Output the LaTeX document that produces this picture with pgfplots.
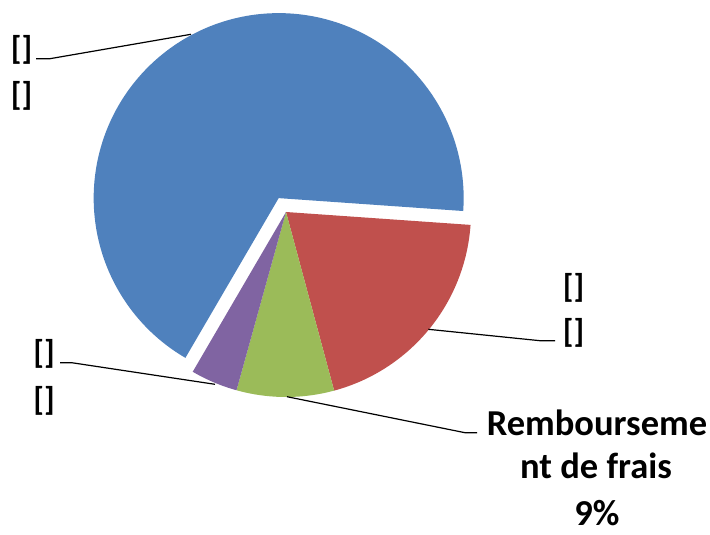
\documentclass[border=0pt]{standalone}
\usepackage{pgfplots}
\pgfplotsset{compat=1.18}
\usepackage{fontspec}
\setmainfont{Carlito}
\definecolor{cblue}{HTML}{4F81BD}
\definecolor{cred}{HTML}{C0504D}
\definecolor{cgreen}{HTML}{9BBB59}
\definecolor{cpurple}{HTML}{8064A2}
% shares in percent (clockwise from -4 degrees)
\def\pRed{19.7}
\def\pGreen{8.5}
\def\pPurple{4.1}
\def\pBlue{67.7}
\def\cx{286}\def\cy{322}\def\R{185}\def\ex{15.7}
\pgfmathsetmacro\aStart{-4}
\pgfmathsetmacro\aRG{\aStart-3.6*\pRed}
\pgfmathsetmacro\aGP{\aRG-3.6*\pGreen}
\pgfmathsetmacro\aPB{\aGP-3.6*\pPurple}
\pgfmathsetmacro\aEnd{\aPB-3.6*\pBlue}
\pgfmathsetmacro\aMid{(\aEnd+\aPB)/2}
\pgfmathsetmacro\bx{\cx+\ex*cos(\aMid)}
\pgfmathsetmacro\by{\cy+\ex*sin(\aMid)}
\newcommand\lblfont{\fontsize{33bp}{45bp}\selectfont\bfseries}
\newcommand\txtfont{\fontsize{36.5bp}{45bp}\selectfont\bfseries}
\tikzset{lbl/.style={font=\lblfont, inner sep=0pt},
         txt/.style={font=\txtfont, inner sep=0pt, anchor=base}}
\begin{document}
\begin{tikzpicture}
\begin{axis}[
  width=710bp, height=534bp, scale only axis,
  xmin=0, xmax=710, ymin=0, ymax=534,
  hide axis, clip=false,
]
\addplot[draw=none, fill=cred, domain=\aRG:\aStart, samples=80, variable=\t]
  ({\cx+\R*cos(\t)},{\cy+\R*sin(\t)}) -- (axis cs:\cx,\cy) -- cycle;
\addplot[draw=none, fill=cgreen, domain=\aGP:\aRG, samples=40, variable=\t]
  ({\cx+\R*cos(\t)},{\cy+\R*sin(\t)}) -- (axis cs:\cx,\cy) -- cycle;
\addplot[draw=none, fill=cpurple, domain=\aPB:\aGP, samples=30, variable=\t]
  ({\cx+\R*cos(\t)},{\cy+\R*sin(\t)}) -- (axis cs:\cx,\cy) -- cycle;
\addplot[draw=none, fill=cblue, domain=\aEnd:\aPB, samples=200, variable=\t]
  ({\bx+\R*cos(\t)},{\by+\R*sin(\t)}) -- (axis cs:\bx,\by) -- cycle;
% leader lines
\addplot[black, line width=1.2bp, sharp plot] coordinates {(191,499.7) (50,475.3) (36,475.3)};
\addplot[black, line width=1.2bp, sharp plot] coordinates {(428.3,204.7) (540,193.3) (555,193.3)};
\addplot[black, line width=1.2bp, sharp plot] coordinates {(287,137.3) (465,101.3) (477,101.3)};
\addplot[black, line width=1.2bp, sharp plot] coordinates {(215,149.7) (71.7,171.3) (60,171.3)};
% labels
\node[lbl] at (axis cs:21.5,484) {[]};
\node[lbl] at (axis cs:21.5,438.5) {[]};
\node[lbl] at (axis cs:573.5,246.5) {[]};
\node[lbl] at (axis cs:573.5,201) {[]};
\node[lbl] at (axis cs:44,180) {[]};
\node[lbl] at (axis cs:44,133) {[]};
\node[txt] at (axis cs:597,99) {Rembourseme};
\node[txt] at (axis cs:596,56) {nt de frais};
\node[txt] at (axis cs:597,9) {9\%};
\end{axis}
\pgfresetboundingbox
\useasboundingbox (current axis.south west) rectangle (current axis.north east);
\end{tikzpicture}
\end{document}
